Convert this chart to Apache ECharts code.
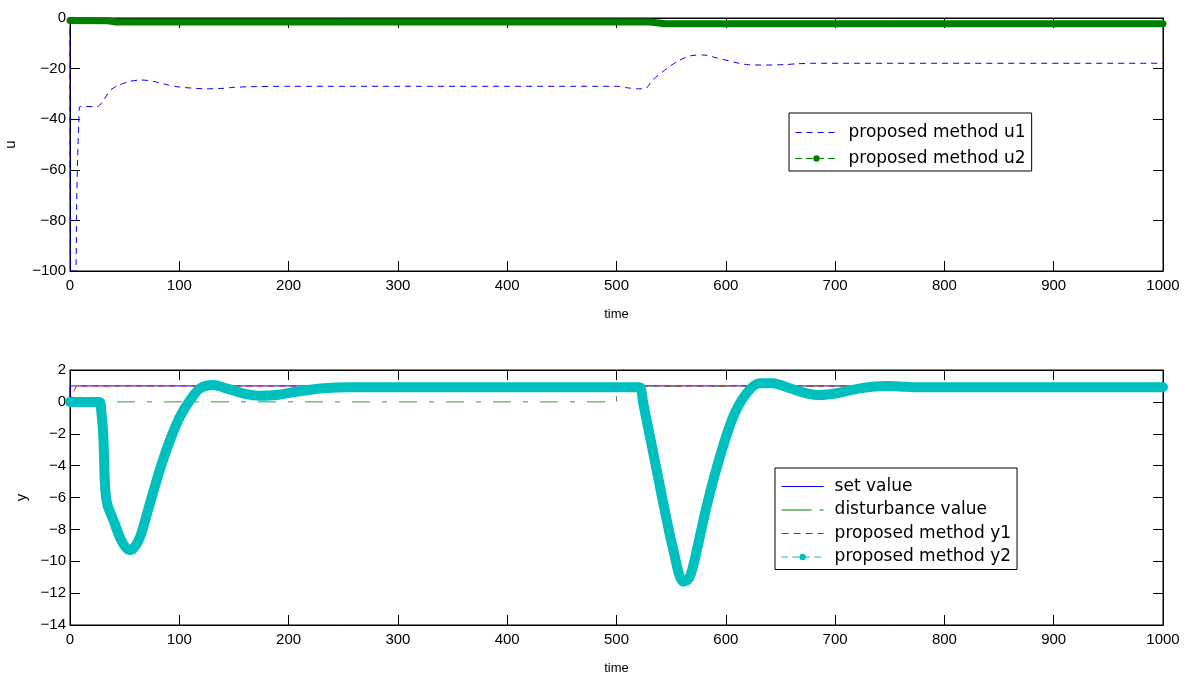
<!DOCTYPE html>
<html>
<head>
<meta charset="utf-8">
<script src="https://cdn.jsdelivr.net/npm/echarts@6/dist/echarts.min.js"></script>
<style>
html,body{margin:0;padding:0;background:#fff;}
#chart{width:1193px;height:673px;}
</style>
</head>
<body>
<div id="chart"></div>
<script>
// ---- data ----
const xTicks = [0, 100, 200, 300, 400, 500, 600, 700, 800, 900, 1000];
const uTicks = [-100, -80, -60, -40, -20, 0];
const yTicks = [-14, -12, -10, -8, -6, -4, -2, 0, 2];

const u1 = [[0,0],[0.5,-100],[5,-100],[6,-75],[7,-55],[8,-42],[9,-35],[25,-35],[30,-33],[37,-28.5],[45,-26.5],[55,-25],[65,-24.5],[76,-25],[90,-26.5],[100,-27.3],[115,-27.8],[125,-28],[140,-27.8],[150,-27.4],[170,-27.1],[200,-27],[500,-27],[510,-27.6],[520,-28],[526,-28],[533,-24.5],[546,-20],[555,-17.3],[567,-15],[579,-14.6],[592,-15.8],[607,-17.4],[619,-18.4],[637,-18.6],[655,-18.4],[665,-18.1],[680,-17.9],[1000,-17.9]];
const u2 = [[0,-1],[35,-1.1],[42,-1.6],[530,-1.6],[545,-2.3],[1000,-2.3]];

const setValue = [[0,0],[0,1],[1000,1]];
const disturbance = [[0,0],[500,0],[500,1],[1000,1]];
const y1 = [[0,0],[3,0.6],[6,1],[1000,1]];
const y2 = [[0,0],[27,0],[28.5,-0.5],[30.5,-2.2],[32,-5.2],[34,-6.4],[39.6,-7.4],[47,-8.7],[54,-9.3],[58,-9.2],[64,-8.5],[73,-6.4],[82,-4.3],[91.5,-2.4],[100.6,-0.93],[110,0.12],[119,0.85],[131,1.06],[143,0.85],[158,0.54],[174,0.39],[189,0.43],[207,0.64],[232,0.85],[256,0.92],[520,0.92],[522,0.9],[524.5,-0.1],[533.7,-3.23],[542.8,-6.36],[552,-9.3],[561,-11.28],[566,-11.1],[570,-10.34],[582.4,-6.57],[594.6,-3.44],[606.8,-0.93],[619,0.54],[631,1.17],[643,1.17],[658.7,0.85],[674,0.54],[686,0.43],[701.5,0.54],[722.8,0.85],[747,1.0],[765,0.95],[778,0.92],[1000,0.92]];

// ---- chart ----
const labelFont = {fontFamily:'Liberation Sans, Arial, sans-serif', fontSize:15, color:'#000'};
const minus = v => String(v).replace('-', '\u2212');

function xAx(grid, pos, showLabel, name) {
  return {
    type:'value', gridIndex:grid, position:pos,
    min:xTicks[0], max:xTicks[xTicks.length-1], interval:xTicks[1]-xTicks[0],
    name: name || '', nameLocation:'middle', nameGap:37,
    nameTextStyle:{fontFamily:'Liberation Sans, Arial, sans-serif', fontSize:13, color:'#000'},
    axisLine:{show:true, onZero:false, lineStyle:{color:'#000', width:1}},
    axisTick:{show:true, inside:true, length:10, lineStyle:{color:'#000'}},
    axisLabel:Object.assign({show:showLabel, margin:7, formatter:minus}, labelFont),
    splitLine:{show:false}
  };
}
function yAx(grid, pos, showLabel, ticks, name, gap) {
  return {
    type:'value', gridIndex:grid, position:pos,
    min:ticks[0], max:ticks[ticks.length-1], interval:ticks[1]-ticks[0],
    name: name || '', nameLocation:'middle', nameGap:gap || 40,
    nameTextStyle:{fontFamily:'Liberation Sans, Arial, sans-serif', fontSize:15, color:'#000'},
    axisLine:{show:true, onZero:false, lineStyle:{color:'#000', width:1}},
    axisTick:{show:true, inside:true, length:10, lineStyle:{color:'#000'}},
    axisLabel:Object.assign({show:showLabel, margin:4, formatter:minus}, labelFont),
    splitLine:{show:false}
  };
}

const legendText = {fontFamily:'DejaVu Sans, sans-serif', fontSize:17, color:'#000', padding:[0,0,0,6]};
const noMark = {opacity:0};

const option = {
  animation:false,
  backgroundColor:'#fff',
  grid:[
    {left:70, right:30, top:18, height:253, show:true, borderColor:'#000', borderWidth:1, backgroundColor:'transparent', outerBoundsMode:'none', containLabel:false},
    {left:70, right:30, top:370, height:255, show:true, borderColor:'#000', borderWidth:1, backgroundColor:'transparent', outerBoundsMode:'none', containLabel:false}
  ],
  xAxis:[
    xAx(0,'bottom',true,'time'),
    xAx(0,'top',false),
    xAx(1,'bottom',true,'time'),
    xAx(1,'top',false)
  ],
  yAxis:[
    yAx(0,'left',true,uTicks,'u',52),
    yAx(0,'right',false,uTicks),
    yAx(1,'left',true,yTicks,'y',36),
    yAx(1,'right',false,yTicks)
  ],
  legend:[
    {
      orient:'vertical', left:789, top:113,
      backgroundColor:'#fff', borderColor:'#000', borderWidth:1,
      padding:[11,6,4,6], itemWidth:42, itemHeight:8, itemGap:9,
      textStyle:legendText,
      data:[
        {name:'proposed method u1', itemStyle:noMark, lineStyle:{width:1, type:[6,5], color:'#0000ff'}},
        {name:'proposed method u2', lineStyle:{width:1, type:[6,5], color:'#008000'}, itemStyle:{color:'#008000'}}
      ]
    },
    {
      orient:'vertical', left:775, top:468,
      backgroundColor:'#fff', borderColor:'#000', borderWidth:1,
      padding:[10,6,4,6], itemWidth:42, itemHeight:8, itemGap:6.5,
      textStyle:legendText,
      data:[
        {name:'set value', itemStyle:noMark, lineStyle:{width:1, color:'#0000ff'}},
        {name:'disturbance value', itemStyle:noMark, lineStyle:{width:1, type:[30,8,4,8], color:'#008000'}},
        {name:'proposed method y1', itemStyle:{opacity:0, color:'#ff0000'}, lineStyle:{width:1.2, type:[7,5], color:'#ff0000', opacity:1}},
        {name:'proposed method y2', lineStyle:{width:1, type:[6,5], color:'#00bfbf'}, itemStyle:{color:'#00bfbf'}}
      ]
    }
  ],
  series:[
    {name:'proposed method u1', type:'line', xAxisIndex:0, yAxisIndex:0, data:u1,
     symbol:'none', smooth:0.25, lineStyle:{color:'#0000ff', width:1, type:[6,5]}, itemStyle:{color:'#0000ff'}},
    {name:'proposed method u2', type:'line', xAxisIndex:0, yAxisIndex:0, data:u2, clip:false,
     symbol:'circle', symbolSize:7, showSymbol:false, lineStyle:{color:'#008000', width:7, cap:'round', join:'round'}, itemStyle:{color:'#008000'}},
    {name:'set value', type:'line', xAxisIndex:2, yAxisIndex:2, data:setValue,
     symbol:'none', lineStyle:{color:'#0000ff', width:1}, itemStyle:{color:'#0000ff'}},
    {name:'disturbance value', type:'line', xAxisIndex:2, yAxisIndex:2, data:disturbance,
     symbol:'none', lineStyle:{color:'#3a9a3a', width:1, type:[18,12,5,12]}, itemStyle:{color:'#008000'}},
    {name:'proposed method y1', type:'line', xAxisIndex:2, yAxisIndex:2, data:y1,
     symbol:'none', lineStyle:{color:'#ff0000', width:1, type:[6,5]}, itemStyle:{color:'#ff0000'}},
    {name:'proposed method y2', type:'line', xAxisIndex:2, yAxisIndex:2, data:y2, clip:false,
     symbol:'circle', symbolSize:8, showSymbol:false, smooth:0.3, lineStyle:{color:'#00bfbf', width:10, cap:'round', join:'round'}, itemStyle:{color:'#00bfbf'}}
  ]
};

const chart = echarts.init(document.getElementById('chart'), null, {renderer:'canvas'});
chart.setOption(option);
</script>
</body>
</html>
